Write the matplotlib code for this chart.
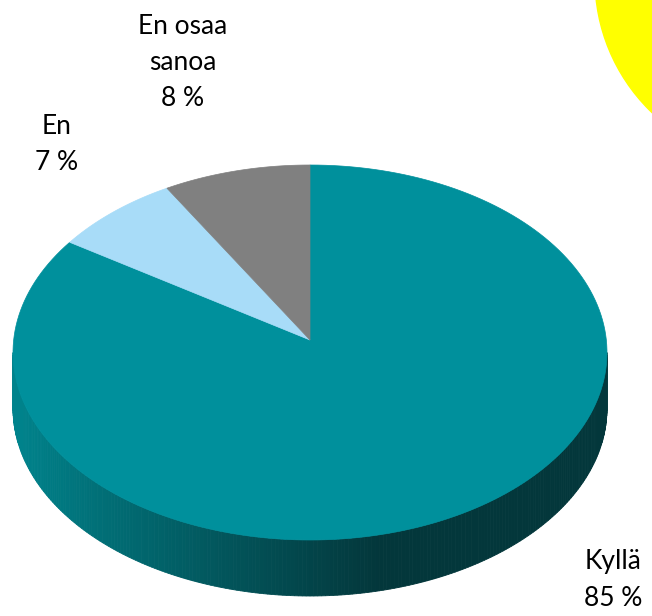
import numpy as np
import matplotlib.pyplot as plt
from matplotlib.patches import Polygon, Circle
from matplotlib.colors import to_rgb

labels = ['Kyllä', 'En', 'En osaa\nsanoa']
values = [85, 7, 8]
colors = ['#00909C', '#A8DCF8', '#808080']
label_pos = [(613, 580), (57, 145), (183, 62)]

plt.rcParams['font.family'] = ['Lato', 'DejaVu Sans']

fig = plt.figure(figsize=(6.52, 6.16), dpi=100)
ax = fig.add_axes([0, 0, 1, 1])
ax.set_xlim(0, 652)
ax.set_ylim(616, 0)
ax.axis('off')

# pie geometry in pixels (apex sits a bit above the ellipse centre, perspective)
cx, cy = 310, 352.5
a, b = 297, 187.5
apex = (310, 340)
depth = 56


def ell(t):
    t = np.radians(t)
    return cx + a * np.cos(t), cy - b * np.sin(t)


# decorative yellow circle in the corner
ax.add_patch(Circle((780, -21), 185, color='#FFFF00', zorder=0))

# side band (front half), drawn in thin strips for a shaded look
side_dark = np.array(to_rgb('#03373B'))
side_light = np.array(to_rgb('#00838C'))
ts = np.linspace(180, 360, 241)
for t0, t1 in zip(ts[:-1], ts[1:]):
    x0, y0 = ell(t0)
    x1, y1 = ell(t1)
    f = np.clip((0.5 * (x0 + x1) - 20) / 360, 0, 1) ** 0.9
    c = side_light * (1 - f) + side_dark * f
    ax.add_patch(Polygon([(x0, y0), (x1, y1), (x1, y1 + depth), (x0, y0 + depth)],
                         closed=True, facecolor=c, edgecolor=c, lw=0.6, zorder=1))

# top face wedges, starting at 12 o'clock and going clockwise
start = 90.0
for val, col in zip(values, colors):
    sweep = 360.0 * val / sum(values)
    t = np.linspace(start, start - sweep, 200)
    xs, ys = ell(t)
    pts = [apex] + list(zip(xs, ys))
    ax.add_patch(Polygon(pts, closed=True, facecolor=col, edgecolor=col, lw=0.5, zorder=2))
    start -= sweep

for lab, val, (x, y) in zip(labels, values, label_pos):
    ax.text(x, y, f'{lab}\n{val} %', ha='center', va='center', fontsize=19,
            color='black', linespacing=1.55, zorder=3)

fig.savefig('out.png', dpi=100)
